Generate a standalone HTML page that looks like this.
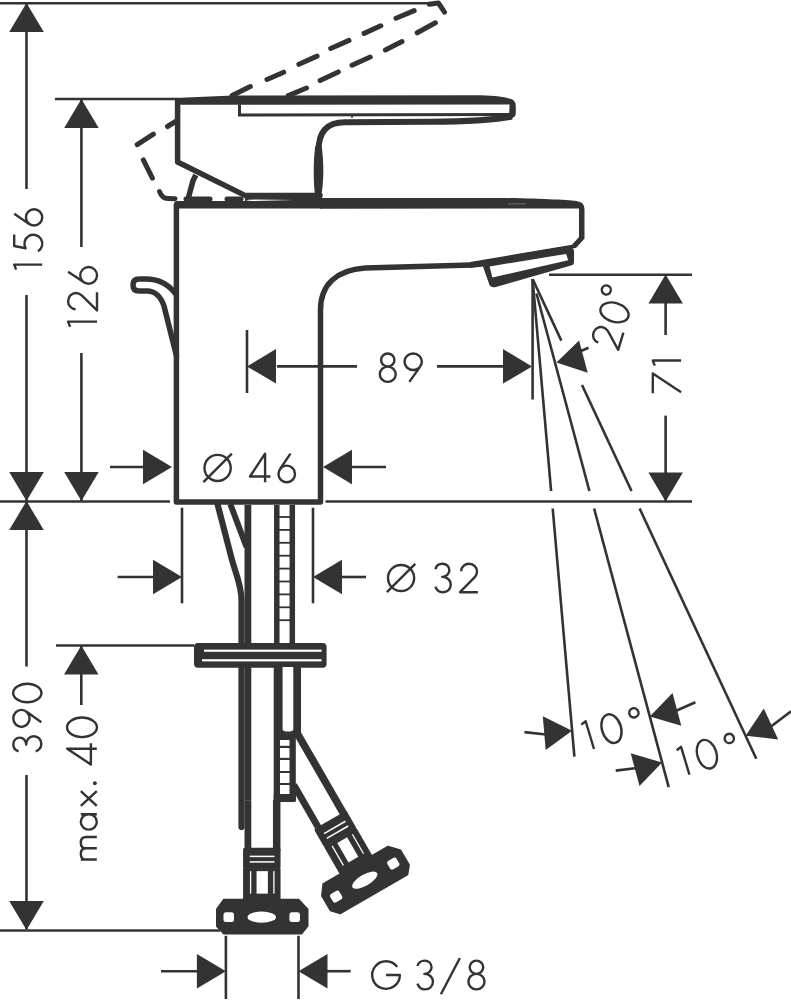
<!DOCTYPE html>
<html><head><meta charset="utf-8"><style>
html,body{margin:0;padding:0;background:#fff;}
svg{display:block;}
text{font-family:"Liberation Sans",sans-serif;font-kerning:none;fill:#333;}
</style></head><body>
<svg width="791" height="1000" viewBox="0 0 791 1000" stroke="#333" fill="none">
<line x1="0.0" y1="3.2" x2="431.0" y2="3.2" stroke-width="2.6" stroke-linecap="butt"/>
<line x1="26.5" y1="3.0" x2="26.5" y2="189.0" stroke-width="2.6" stroke-linecap="butt"/>
<line x1="26.5" y1="295.0" x2="26.5" y2="501.0" stroke-width="2.6" stroke-linecap="butt"/>
<polygon stroke="none" fill="#333" points="26.5,3.0 43.8,32.0 9.2,32.0"/>
<polygon stroke="none" fill="#333" points="26.5,501.0 9.2,472.0 43.8,472.0"/>
<g transform="translate(42.20,269.65) rotate(-90) scale(0.28)" fill="none" stroke="#333" stroke-width="8.57" stroke-linecap="butt" stroke-linejoin="round"><path transform="translate(0,0)" d="M0,-93 L18,-100 L18,0"/><path transform="translate(65.4,0)" d="M60,-100 L19,-100 L11,-59 A32,32 0 1 1 0,-15"/><path transform="translate(157.5,0)" d="M0,-29 A29,29 0 1 0 58,-29 A29,29 0 1 0 0,-29 Z M42,-100 L5,-45.3"/></g>
<line x1="55.0" y1="99.0" x2="178.0" y2="99.0" stroke-width="2.6" stroke-linecap="butt"/>
<line x1="81.4" y1="99.0" x2="81.4" y2="247.0" stroke-width="2.6" stroke-linecap="butt"/>
<line x1="81.4" y1="353.0" x2="81.4" y2="501.0" stroke-width="2.6" stroke-linecap="butt"/>
<polygon stroke="none" fill="#333" points="81.4,99.0 98.7,128.0 64.2,128.0"/>
<polygon stroke="none" fill="#333" points="81.4,501.0 64.2,472.0 98.7,472.0"/>
<g transform="translate(97.00,326.85) rotate(-90) scale(0.289)" fill="none" stroke="#333" stroke-width="8.30" stroke-linecap="butt" stroke-linejoin="round"><path transform="translate(0,0)" d="M0,-93 L18,-100 L18,0"/><path transform="translate(57,0)" d="M4,-74 C4,-89 17,-100 32,-100 C48,-100 60,-88 60,-73 C60,-65 57,-59 52,-53 L0,0 L63,0"/><path transform="translate(149,0)" d="M0,-29 A29,29 0 1 0 58,-29 A29,29 0 1 0 0,-29 Z M42,-100 L5,-45.3"/></g>
<line x1="0.0" y1="501.5" x2="170.0" y2="501.5" stroke-width="2.6" stroke-linecap="butt"/>
<line x1="325.5" y1="501.5" x2="692.0" y2="501.5" stroke-width="2.6" stroke-linecap="butt"/>
<line x1="26.5" y1="501.0" x2="26.5" y2="666.5" stroke-width="2.6" stroke-linecap="butt"/>
<line x1="26.5" y1="775.0" x2="26.5" y2="929.0" stroke-width="2.6" stroke-linecap="butt"/>
<polygon stroke="none" fill="#333" points="26.5,501.0 43.8,530.0 9.2,530.0"/>
<polygon stroke="none" fill="#333" points="26.5,930.0 9.2,901.0 43.8,901.0"/>
<g transform="translate(41.30,751.30) rotate(-90) scale(0.28)" fill="none" stroke="#333" stroke-width="8.57" stroke-linecap="butt" stroke-linejoin="round"><path transform="translate(0,0)" d="M0,-81 C3,-93 14,-100 25,-100 C39,-100 49,-90 49,-77 C49,-64 38,-54 24,-54 C40,-54 54,-43 54,-27 C54,-11 42,0 27,0 C14,0 4,-8 0,-20"/><path transform="translate(87,0)" d="M0.0,-71 A30.5,29 0 1 0 61.0,-71 A30.5,29 0 1 0 0.0,-71 Z M54,-52 L17,0"/><path transform="translate(175,0)" d="M0,-50 A33,50.5 0 1 0 66,-50 A33,50.5 0 1 0 0,-50 Z"/></g>
<line x1="0.0" y1="930.5" x2="220.0" y2="930.5" stroke-width="2.6" stroke-linecap="butt"/>
<line x1="56.0" y1="645.5" x2="194.0" y2="645.5" stroke-width="2.6" stroke-linecap="butt"/>
<line x1="81.3" y1="645.5" x2="81.3" y2="705.0" stroke-width="2.6" stroke-linecap="butt"/>
<polygon stroke="none" fill="#333" points="81.3,645.5 98.5,674.5 64.0,674.5"/>
<g transform="translate(96.80,859.50) rotate(-90) scale(0.296)" fill="none" stroke="#333" stroke-width="8.11" stroke-linecap="butt" stroke-linejoin="round"><path transform="translate(0,0)" d="M0,0 L0,-54 M0,-36 C0,-48 8,-54 19,-54 C30,-54 38,-48 38,-36 L38,0 M38,-36 C38,-48 46,-54 57,-54 C68,-54 76,-48 76,-36 L76,0"/><path transform="translate(101,0)" d="M0,-27 A26,27 0 1 0 52,-27 A26,27 0 1 0 0,-27 Z M52,-54 L52,0"/><path transform="translate(181,0)" d="M0,-54 L50,0 M0,0 L50,-54"/><g transform="translate(251,0)"><circle cx="6.5" cy="-6.5" r="6.5" fill="#333" stroke="none"/></g><path transform="translate(321,0)" d="M53,0 L53,-100 L0,-20 L72,-20"/><path transform="translate(413.5,0)" d="M0,-50 A33,50.5 0 1 0 66,-50 A33,50.5 0 1 0 0,-50 Z"/></g>
<line x1="110.0" y1="467.0" x2="146.0" y2="467.0" stroke-width="2.6" stroke-linecap="butt"/>
<polygon stroke="none" fill="#333" points="172.0,467.0 143.0,484.2 143.0,449.8"/>
<line x1="350.0" y1="467.0" x2="386.0" y2="467.0" stroke-width="2.6" stroke-linecap="butt"/>
<polygon stroke="none" fill="#333" points="323.0,467.0 352.0,449.8 352.0,484.2"/>
<g transform="translate(204.50,482.20) rotate(0) scale(0.285)" fill="none" stroke="#333" stroke-width="8.42" stroke-linecap="butt" stroke-linejoin="round"><path transform="translate(0,0)" d="M0,-50 A46,46 0 1 0 92,-50 A46,46 0 1 0 0,-50 Z M-4,0 L96,-100"/><path transform="translate(159.6,0)" d="M53,0 L53,-100 L0,-20 L72,-20"/><path transform="translate(259.6,0)" d="M0,-29 A29,29 0 1 0 58,-29 A29,29 0 1 0 0,-29 Z M42,-100 L5,-45.3"/></g>
<line x1="182.0" y1="507.7" x2="182.0" y2="603.3" stroke-width="2.6" stroke-linecap="butt"/>
<line x1="313.0" y1="507.7" x2="313.0" y2="603.3" stroke-width="2.6" stroke-linecap="butt"/>
<line x1="117.6" y1="577.0" x2="154.0" y2="577.0" stroke-width="2.6" stroke-linecap="butt"/>
<polygon stroke="none" fill="#333" points="182.0,577.0 153.0,594.2 153.0,559.8"/>
<line x1="342.0" y1="577.0" x2="366.0" y2="577.0" stroke-width="2.6" stroke-linecap="butt"/>
<polygon stroke="none" fill="#333" points="313.0,577.0 342.0,559.8 342.0,594.2"/>
<g transform="translate(388.00,592.20) rotate(0) scale(0.284)" fill="none" stroke="#333" stroke-width="8.45" stroke-linecap="butt" stroke-linejoin="round"><path transform="translate(0,0)" d="M0,-50 A46,46 0 1 0 92,-50 A46,46 0 1 0 0,-50 Z M-4,0 L96,-100"/><path transform="translate(167,0)" d="M0,-81 C3,-93 14,-100 25,-100 C39,-100 49,-90 49,-77 C49,-64 38,-54 24,-54 C40,-54 54,-43 54,-27 C54,-11 42,0 27,0 C14,0 4,-8 0,-20"/><path transform="translate(253.5,0)" d="M4,-74 C4,-89 17,-100 32,-100 C48,-100 60,-88 60,-73 C60,-65 57,-59 52,-53 L0,0 L63,0"/></g>
<line x1="225.9" y1="935.8" x2="225.9" y2="999.0" stroke-width="2.6" stroke-linecap="butt"/>
<line x1="298.5" y1="935.8" x2="298.5" y2="999.0" stroke-width="2.6" stroke-linecap="butt"/>
<line x1="161.0" y1="971.2" x2="198.0" y2="971.2" stroke-width="2.6" stroke-linecap="butt"/>
<polygon stroke="none" fill="#333" points="225.9,971.2 196.9,988.5 196.9,954.0"/>
<line x1="327.0" y1="971.2" x2="350.7" y2="971.2" stroke-width="2.6" stroke-linecap="butt"/>
<polygon stroke="none" fill="#333" points="298.5,971.2 327.5,954.0 327.5,988.5"/>
<g transform="translate(372.20,989.40) rotate(0) scale(0.288)" fill="none" stroke="#333" stroke-width="8.33" stroke-linecap="butt" stroke-linejoin="round"><path transform="translate(0,0)" d="M86.83,-78.21 A48,48 0 1 0 96,-50 L48,-50"/><path transform="translate(157,0)" d="M0,-81 C3,-93 14,-100 25,-100 C39,-100 49,-90 49,-77 C49,-64 38,-54 24,-54 C40,-54 54,-43 54,-27 C54,-11 42,0 27,0 C14,0 4,-8 0,-20"/><path transform="translate(238.5,0)" d="M0,17 L66,-109"/><path transform="translate(334,0)" d="M4.5,-77 A23.5,23 0 1 0 51.5,-77 A23.5,23 0 1 0 4.5,-77 Z M0,-27 A28,27 0 1 0 56,-27 A28,27 0 1 0 0,-27 Z"/></g>
<line x1="247.0" y1="330.0" x2="247.0" y2="393.0" stroke-width="2.6" stroke-linecap="butt"/>
<polygon stroke="none" fill="#333" points="247.0,366.4 276.0,349.1 276.0,383.6"/>
<line x1="277.0" y1="366.4" x2="357.0" y2="366.4" stroke-width="2.6" stroke-linecap="butt"/>
<g transform="translate(379.80,381.90) rotate(0) scale(0.284)" fill="none" stroke="#333" stroke-width="8.45" stroke-linecap="butt" stroke-linejoin="round"><path transform="translate(0,0)" d="M4.5,-77 A23.5,23 0 1 0 51.5,-77 A23.5,23 0 1 0 4.5,-77 Z M0,-27 A28,27 0 1 0 56,-27 A28,27 0 1 0 0,-27 Z"/><path transform="translate(87,0)" d="M0.0,-71 A30.5,29 0 1 0 61.0,-71 A30.5,29 0 1 0 0.0,-71 Z M54,-52 L17,0"/></g>
<line x1="437.0" y1="366.4" x2="504.0" y2="366.4" stroke-width="2.6" stroke-linecap="butt"/>
<polygon stroke="none" fill="#333" points="532.0,366.4 503.0,383.6 503.0,349.1"/>
<line x1="549.0" y1="274.8" x2="692.0" y2="274.8" stroke-width="2.6" stroke-linecap="butt"/>
<polygon stroke="none" fill="#333" points="665.6,274.6 682.9,303.6 648.4,303.6"/>
<line x1="665.6" y1="303.0" x2="665.6" y2="335.0" stroke-width="2.6" stroke-linecap="butt"/>
<g transform="translate(681.10,393.20) rotate(-90) scale(0.283)" fill="none" stroke="#333" stroke-width="8.48" stroke-linecap="butt" stroke-linejoin="round"><path transform="translate(0,0)" d="M0,-100 L70,-100 L3,0"/><path transform="translate(97.3,0)" d="M0,-93 L18,-100 L18,0"/></g>
<line x1="665.6" y1="415.6" x2="665.6" y2="501.0" stroke-width="2.6" stroke-linecap="butt"/>
<polygon stroke="none" fill="#333" points="665.6,501.5 648.4,472.5 682.9,472.5"/>
<line x1="532.6" y1="279.0" x2="532.6" y2="399.5" stroke-width="2.6" stroke-linecap="butt"/>
<line x1="532.6" y1="279.0" x2="551.1" y2="491.0" stroke-width="2.6" stroke-linecap="butt"/>
<line x1="552.7" y1="508.5" x2="574.4" y2="756.7" stroke-width="2.6" stroke-linecap="butt"/>
<line x1="536.5" y1="293.5" x2="589.4" y2="491.0" stroke-width="2.6" stroke-linecap="butt"/>
<line x1="594.1" y1="508.5" x2="668.7" y2="787.1" stroke-width="2.6" stroke-linecap="butt"/>
<line x1="532.6" y1="279.0" x2="561.3" y2="340.6" stroke-width="2.6" stroke-linecap="butt"/>
<line x1="582.0" y1="385.0" x2="631.5" y2="491.0" stroke-width="2.6" stroke-linecap="butt"/>
<line x1="639.6" y1="508.5" x2="756.3" y2="758.8" stroke-width="2.6" stroke-linecap="butt"/>
<polygon stroke="none" fill="#333" points="556.4,362.4 579.1,340.6 587.7,372.8"/>
<line x1="581.0" y1="351.0" x2="588.5" y2="347.8" stroke-width="2.6" stroke-linecap="butt"/>
<g transform="translate(618.20,349.80) rotate(-73.3) scale(0.286)" fill="none" stroke="#333" stroke-width="8.39" stroke-linecap="butt" stroke-linejoin="round"><path transform="translate(0,0)" d="M4,-74 C4,-89 17,-100 32,-100 C48,-100 60,-88 60,-73 C60,-65 57,-59 52,-53 L0,0 L63,0"/><path transform="translate(88.6,0)" d="M0,-50 A33,50.5 0 1 0 66,-50 A33,50.5 0 1 0 0,-50 Z"/><path transform="translate(172.5,-16)" d="M0,-84 A16,16 0 1 0 32,-84 A16,16 0 1 0 0,-84 Z"/></g>
<polygon stroke="none" fill="#333" points="572.1,730.8 545.7,750.1 542.8,716.3"/>
<line x1="524.5" y1="732.1" x2="546.0" y2="734.5" stroke-width="2.6" stroke-linecap="butt"/>
<polygon stroke="none" fill="#333" points="649.8,716.6 672.5,692.9 681.3,725.7"/>
<line x1="675.0" y1="711.2" x2="695.4" y2="702.2" stroke-width="2.6" stroke-linecap="butt"/>
<polygon stroke="none" fill="#333" points="662.1,762.4 639.5,786.1 630.7,753.3"/>
<line x1="615.7" y1="770.6" x2="637.0" y2="768.0" stroke-width="2.6" stroke-linecap="butt"/>
<polygon stroke="none" fill="#333" points="745.6,735.8 763.8,708.5 778.2,739.4"/>
<line x1="771.0" y1="726.5" x2="791.0" y2="711.4" stroke-width="2.6" stroke-linecap="butt"/>
<g transform="translate(589.00,750.50) rotate(-16.7) scale(0.29)" fill="none" stroke="#333" stroke-width="8.28" stroke-linecap="butt" stroke-linejoin="round"><path transform="translate(0,0)" d="M0,-93 L18,-100 L18,0"/><path transform="translate(63,0)" d="M0,-50 A33,50.5 0 1 0 66,-50 A33,50.5 0 1 0 0,-50 Z"/><path transform="translate(169.5,4)" d="M0,-84 A16,16 0 1 0 32,-84 A16,16 0 1 0 0,-84 Z"/></g>
<g transform="translate(684.40,776.10) rotate(-16.7) scale(0.29)" fill="none" stroke="#333" stroke-width="8.28" stroke-linecap="butt" stroke-linejoin="round"><path transform="translate(0,0)" d="M0,-93 L18,-100 L18,0"/><path transform="translate(63,0)" d="M0,-50 A33,50.5 0 1 0 66,-50 A33,50.5 0 1 0 0,-50 Z"/><path transform="translate(169.5,4)" d="M0,-84 A16,16 0 1 0 32,-84 A16,16 0 1 0 0,-84 Z"/></g>
<path stroke="none" fill="#333" d="M174.6,98 L233,95.5 L480,95.2 C497,95.5 507,97.5 511,99 C515,100.5 515.8,103 515.8,107 L515.8,113 C515.8,116.5 513.5,118.3 509,118.5 L509.6,104.5 L180.7,104.8 Z"/>
<path d="M177.6,101 L177.6,162 L245.4,195.6 L320,195.6" stroke-width="5.5" fill="none" stroke-linejoin="round" stroke-linecap="round" />
<path d="M195.8,175 L192.9,181 L187.8,200" stroke-width="5.5" fill="none" stroke-linejoin="round" stroke-linecap="butt" />
<path d="M239.5,104.5 L239.5,115 L512,114.6" stroke-width="3" fill="none" stroke-linejoin="miter" stroke-linecap="butt" />
<line x1="352.0" y1="114.0" x2="352.0" y2="118.0" stroke-width="1.5" stroke-linecap="butt"/>
<path d="M318.4,152 C318.4,131 327,122.5 345,122.3 L430,121.8 C470,121.5 495,120 512,116.5" stroke-width="6" fill="none" stroke-linejoin="round" stroke-linecap="butt" />
<path stroke="none" fill="#333" d="M315.3,198 C313.2,182 313.2,162 315.2,146 L321.6,146 C324,162 324,182 320.9,198 Z"/>
<path stroke="none" fill="#333" d="M174,204 Q174,201 177,201 L322,201 L322,208.6 L174,208.6 Z"/>
<path stroke="none" fill="#333" d="M320,198 L500,198 C540,198.5 570,200 578,201.5 C583,202.5 584.5,205 584.5,210 L584.5,238.5 L576,248 C540,252 505,258 485,263.5 L470,266 L470,262 L485,259.5 L572,244.8 L579,236.9 L579,208.5 L320,208.8 Z"/>
<line x1="508" y1="203.9" x2="526" y2="203.9" stroke="#fff" stroke-width="0.6" stroke-opacity="0.5"/>
<rect x="245" y="196" width="77" height="7" fill="#333" stroke="none"/>
<path fill="#fff" stroke="none" d="M246,200.2 Q247,199.6 255,199.6 L294,199.9 L255,200.9 Q247,200.9 246,200.2 Z"/>
<path d="M176.4,204 L176.4,502 L320.5,502 L320.5,310 C320.5,285 336,270 365,268 L472,265" stroke-width="5.5" fill="none" stroke-linejoin="round" stroke-linecap="butt" />
<path stroke="none" fill="#333" d="M470,262.6 C478,262.3 482,261.8 488,260.5 C510,255.5 540,250.5 570,245.8 L574,250 L574,262 Q574,265 571,265.5 L495,287.2 Q491,288 489.5,285 L483,266.5 C478,267.2 474,267.6 470,268 Z"/>
<polygon fill="#fff" stroke="none" points="489.6,266.4 566.1,253.9 568.2,260.2 492.4,277.5"/>
<path d="M175,293 C167,283 156,279 146,279 L139,279 C134,279 133,282 133,285 C133,288 134,291 139,291 L147,291 C155,291 161,297 164,306 L176.5,356" stroke-width="5.5" fill="none" stroke-linejoin="round" stroke-linecap="round" />
<line x1="232.1" y1="95.6" x2="250.3" y2="86.5" stroke-width="5" stroke-linecap="round"/>
<line x1="267.0" y1="79.5" x2="283.7" y2="72.2" stroke-width="5" stroke-linecap="round"/>
<line x1="298.9" y1="64.3" x2="317.1" y2="56.1" stroke-width="5" stroke-linecap="round"/>
<line x1="330.7" y1="48.5" x2="349.0" y2="40.4" stroke-width="5" stroke-linecap="round"/>
<line x1="364.1" y1="33.4" x2="380.8" y2="25.8" stroke-width="5" stroke-linecap="round"/>
<line x1="396.0" y1="18.2" x2="414.2" y2="10.6" stroke-width="5" stroke-linecap="round"/>
<line x1="288.3" y1="95.6" x2="306.5" y2="88.0" stroke-width="5" stroke-linecap="round"/>
<line x1="320.1" y1="80.4" x2="338.3" y2="71.9" stroke-width="5" stroke-linecap="round"/>
<line x1="352.0" y1="65.2" x2="370.2" y2="57.0" stroke-width="5" stroke-linecap="round"/>
<line x1="385.4" y1="50.0" x2="402.0" y2="41.6" stroke-width="5" stroke-linecap="round"/>
<line x1="417.2" y1="32.8" x2="435.4" y2="22.8" stroke-width="5" stroke-linecap="round"/>
<line x1="167.5" y1="126.5" x2="175.6" y2="121.5" stroke-width="5" stroke-linecap="round"/>
<line x1="137.2" y1="144.7" x2="153.4" y2="134.2" stroke-width="5" stroke-linecap="round"/>
<line x1="143.3" y1="159.9" x2="152.4" y2="178.1" stroke-width="5" stroke-linecap="round"/>
<path d="M429.3,4.2 L438.4,3 L444.5,12.1" stroke-width="5" fill="none" stroke-linejoin="round" stroke-linecap="round" />
<path d="M159.5,191.5 Q162,198.5 168,198.6 L175,198.8" stroke-width="5" fill="none" stroke-linejoin="round" stroke-linecap="round" />
<line x1="186.0" y1="199.0" x2="210.0" y2="199.0" stroke-width="5" stroke-linecap="round"/>
<line x1="227.0" y1="199.0" x2="241.0" y2="199.0" stroke-width="5" stroke-linecap="round"/>
<path d="M217.5,504 L231.5,558 C235,572 241.5,585 241.5,600 L241.5,827" stroke-width="6.2" fill="none" stroke-linejoin="round" stroke-linecap="round" />
<path d="M230.3,504 L246.5,547" stroke-width="6" fill="none" stroke-linejoin="round" stroke-linecap="butt" />
<line x1="247.9" y1="505.0" x2="247.9" y2="800.0" stroke-width="6.8" stroke-linecap="butt"/>
<line x1="276.8" y1="505.0" x2="276.8" y2="643.0" stroke-width="5.5" stroke-linecap="butt"/>
<line x1="292.3" y1="505.0" x2="292.3" y2="643.0" stroke-width="5.5" stroke-linecap="butt"/>
<line x1="277.0" y1="517.0" x2="292.0" y2="517.0" stroke-width="1.8" stroke-linecap="butt"/>
<line x1="277.0" y1="529.9" x2="292.0" y2="529.9" stroke-width="1.8" stroke-linecap="butt"/>
<line x1="277.0" y1="542.8" x2="292.0" y2="542.8" stroke-width="1.8" stroke-linecap="butt"/>
<line x1="277.0" y1="555.7" x2="292.0" y2="555.7" stroke-width="1.8" stroke-linecap="butt"/>
<line x1="277.0" y1="568.6" x2="292.0" y2="568.6" stroke-width="1.8" stroke-linecap="butt"/>
<line x1="277.0" y1="581.5" x2="292.0" y2="581.5" stroke-width="1.8" stroke-linecap="butt"/>
<line x1="277.0" y1="594.4" x2="292.0" y2="594.4" stroke-width="1.8" stroke-linecap="butt"/>
<line x1="277.0" y1="607.3" x2="292.0" y2="607.3" stroke-width="1.8" stroke-linecap="butt"/>
<line x1="277.0" y1="620.2" x2="292.0" y2="620.2" stroke-width="1.8" stroke-linecap="butt"/>
<rect x="194" y="643" width="132.6" height="24.8" rx="4" fill="#333" stroke="none"/>
<rect x="204" y="649.6" width="117.6" height="2.2" fill="#fff" stroke="none"/>
<rect x="202" y="659.2" width="119.6" height="2.2" fill="#fff" stroke="none"/>
<path stroke="none" fill="#333" d="M273.7,667 L301,667 L301,738 L273.7,738 Z"/>
<path stroke="none" fill="#fff" d="M282.6,667 L293.3,667 L293.3,729 C293.3,731 291,731.5 288,731.5 C285,731.5 282.6,731 282.6,729 Z"/>
<rect x="273.7" y="738" width="22.1" height="62" fill="#333" stroke="none"/>
<rect x="280" y="740" width="9.5" height="5.7999999999999545" fill="#fff" stroke="none"/>
<rect x="280" y="748" width="9.5" height="9.799999999999955" fill="#fff" stroke="none"/>
<rect x="280" y="760" width="9.5" height="11" fill="#fff" stroke="none"/>
<rect x="280" y="773" width="9.5" height="10" fill="#fff" stroke="none"/>
<rect x="280" y="785" width="9.5" height="10.5" fill="#fff" stroke="none"/>
<path stroke="none" fill="#333" d="M273.7,794 L296,794 L296,800.5 Q296,802 294,802 L273.7,802 Z"/>
<g transform="translate(261.75,917.15)" stroke="none"><rect x="-17.25" y="-117" width="6.8" height="51" fill="#333"/><rect x="11.2" y="-117" width="7.5" height="51" fill="#333"/><rect x="-18.7" y="-69.5" width="37.5" height="21" rx="2" fill="#333"/><rect x="-12" y="-61.5" width="24.7" height="1.5" fill="#fff"/><rect x="-12" y="-56" width="24.7" height="1.5" fill="#fff"/><rect x="-18.7" y="-49" width="37.5" height="32" fill="#333"/><rect x="-5.2" y="-46" width="11.3" height="22.5" fill="#fff"/><rect x="-11.8" y="-46" width="1.3" height="22.5" fill="#fff"/><rect x="11.5" y="-46" width="1.3" height="22.5" fill="#fff"/><path fill="#333" d="M-38,-17.6 L37,-17.6 L46,-8 L46,9 L40,16.5 L-38,16.5 L-45,9 L-45,-8 Z" stroke="#333" stroke-width="1.5" stroke-linejoin="round"/><rect x="-38.25" y="-5" width="10.5" height="9.8" rx="2.5" fill="#fff"/><ellipse cx="0" cy="0" rx="14.2" ry="5.6" fill="#fff"/><rect x="27.7" y="-5" width="10.5" height="9.8" rx="2.5" fill="#fff"/></g>
<g transform="translate(364.8,880.2) rotate(-30)" stroke="none"><rect x="-17.25" y="-118" width="6.8" height="52" fill="#333"/><rect x="11.2" y="-161" width="7.5" height="95" fill="#333"/><rect x="-18.7" y="-69.5" width="37.5" height="21" rx="2" fill="#333"/><rect x="-12" y="-61.5" width="24.7" height="1.5" fill="#fff"/><rect x="-12" y="-56" width="24.7" height="1.5" fill="#fff"/><rect x="-18.7" y="-49" width="37.5" height="32" fill="#333"/><rect x="-5.2" y="-46" width="11.3" height="22.5" fill="#fff"/><rect x="-11.8" y="-46" width="1.3" height="22.5" fill="#fff"/><rect x="11.5" y="-46" width="1.3" height="22.5" fill="#fff"/><path fill="#333" d="M-38,-17.6 L37,-17.6 L46,-8 L46,9 L40,16.5 L-38,16.5 L-45,9 L-45,-8 Z" stroke="#333" stroke-width="1.5" stroke-linejoin="round"/><rect x="-38.25" y="-5" width="10.5" height="9.8" rx="2.5" fill="#fff"/><ellipse cx="0" cy="0" rx="14.2" ry="5.6" fill="#fff"/><rect x="27.7" y="-5" width="10.5" height="9.8" rx="2.5" fill="#fff"/></g>
</svg></body></html>
